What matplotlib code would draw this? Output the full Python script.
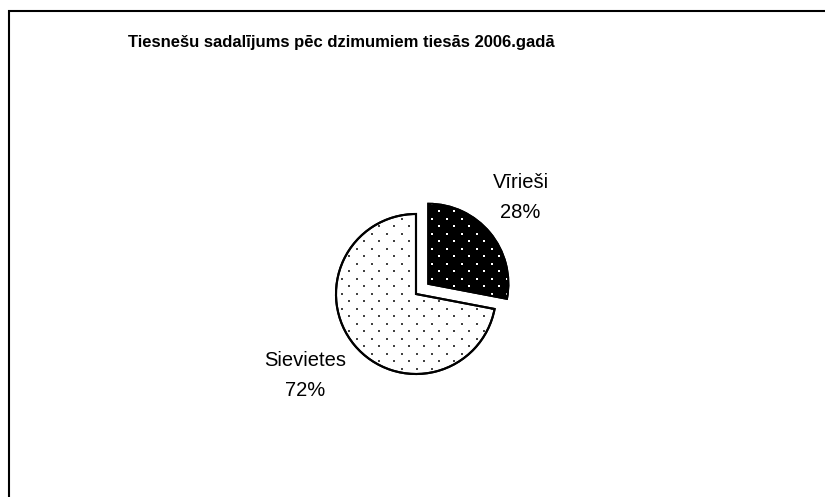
import numpy as np
import matplotlib
matplotlib.use("Agg")
import matplotlib.pyplot as plt
from matplotlib.patches import Rectangle, Wedge

# data
labels = ["Vīrieši", "Sievietes"]
shares = [28, 72]
title = "Tiesnešu sadalījums pēc dzimumiem tiesās 2006.gadā"

plt.rcParams["font.family"] = ["Liberation Sans", "DejaVu Sans"]

W, H = 825, 497
fig = plt.figure(figsize=(W / 100, H / 100), dpi=100)

# chart frame (only left/top edges visible in the crop)
fig.add_artist(Rectangle((8.5 / W, -0.1), 2, 1 - 10.5 / H + 0.1, transform=fig.transFigure,
                         fill=False, lw=1.5, ec="black", clip_on=False))

fig.text(341 / W, 1 - 47 / H, title, ha="center", va="baseline", fontsize=12, fontweight="bold")

# axes: 1 data unit = 80 px, pie centre at (416, 294) px from top-left
R = 80
cx, cy = 416, H - 294
ax = fig.add_axes([(cx - 2.5 * R) / W, (cy - 2 * R) / H, 5 * R / W, 4 * R / H])

txt = [f"{l}\n{s}%" for l, s in zip(labels, shares)]
wedges, texts = ax.pie(shares, labels=txt, startangle=90, counterclock=False,
                       explode=[0.2, 0], labeldistance=1.6,
                       colors=["black", "white"],
                       wedgeprops=dict(edgecolor="black", linewidth=1.5),
                       textprops=dict(fontsize=14.5, linespacing=1.7))
# small nudges to match the original label placement (data units)
nudges = [(-0.08, 0.06), (-0.15, 0.0)]
for t, (dx, dy) in zip(texts, nudges):
    x, y = t.get_position()
    t.set_position((x + dx, y + dy))
    t.set_ha("center")
    t.set_va("center")
ax.set_xlim(-2.5, 2.5)
ax.set_ylim(-2, 2)
ax.axis("off")

# dotted texture (staggered grid) clipped to each wedge
step = 15 / R
gx, gy = [], []
for j, y in enumerate(np.arange(-1.4, 1.4, step / 2)):
    off = (step / 2) * (j % 2)
    for x in np.arange(-1.4 + off, 1.4, step):
        gx.append(x)
        gy.append(y)
dot_colors = ["white", "#444444"]
for w, dc in zip(wedges, dot_colors):
    sc = ax.scatter(gx, gy, s=1.6, c=dc, marker="s", linewidths=0, zorder=w.get_zorder() + 0.1)
    sc.set_clip_path(w)
    # redraw outline on top
    ax.add_patch(Wedge(w.center, w.r, w.theta1, w.theta2, fill=False,
                       ec="black", lw=1.5, zorder=w.get_zorder() + 0.2))

fig.savefig("out.png", dpi=100)
